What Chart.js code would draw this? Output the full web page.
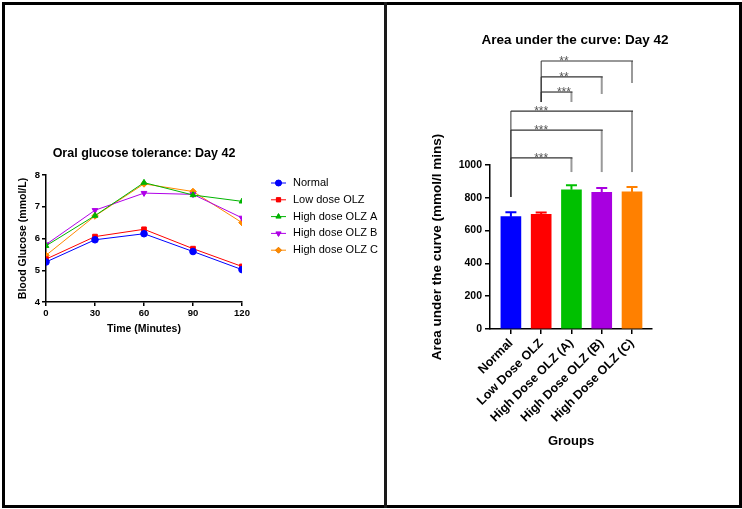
<!DOCTYPE html>
<html>
<head>
<meta charset="utf-8">
<script src="https://cdn.jsdelivr.net/npm/chart.js@4.4.1/dist/chart.umd.min.js"></script>
<style>
  html, body { margin: 0; padding: 0; background: #fff; overflow: hidden; }
  #page { position: relative; width: 742px; height: 509px; }
  canvas { position: absolute; top: 0; }
  #ogtt { left: 0; }
  #auc { left: 386px; }
  .frame { position: absolute; left: 2px; top: 2px; width: 740px; height: 506px; box-sizing: border-box; border: 3px solid #000; }
  .divider { position: absolute; left: 384px; top: 2px; width: 3px; height: 506px; background: #1a1a1a; }
</style>
</head>
<body>
<div id="page">
  <canvas id="ogtt" width="386" height="509"></canvas>
  <canvas id="auc" width="356" height="509"></canvas>
  <div class="frame"></div>
  <div class="divider"></div>
</div>
<script>
// ---------- OGTT data (Day 42) ----------
const times = [0, 30, 60, 90, 120];
const normal = [5.26, 5.96, 6.15, 5.59, 5.02];
const lowDose = [5.35, 6.06, 6.29, 5.68, 5.12];
const highA = [5.77, 6.72, 7.76, 7.37, 7.17];
const highB = [5.81, 6.89, 7.43, 7.39, 6.65];
const highC = [5.47, 6.71, 7.72, 7.48, 6.50];

const seriesNames = ["Normal", "Low dose OLZ", "High dose OLZ A", "High dose OLZ B", "High dose OLZ C"];
const seriesColors = ["#0000ff", "#ff0000", "#00b400", "#b000e8", "#ff8a00"];
const seriesMarkers = ["circle", "rect", "triangle", "triangle", "rectRot"];
const seriesRotation = [0, 0, 0, 180, 0];

// ---------- AUC data ----------
const groups = ["Normal", "Low Dose OLZ", "High Dose OLZ (A)", "High Dose OLZ (B)", "High Dose OLZ (C)"];
const aucMean = [685, 699, 849, 834, 836];
const aucSem = [27, 12, 27, 26, 30];
const barColors = ["#0000ff", "#ff0000", "#00c000", "#a800e0", "#ff8000"];

// significance brackets
const bracketFrom = [1, 1, 1, 0, 0, 0];
const bracketTo = [4, 3, 2, 4, 3, 2];
const bracketTop = [1634, 1537, 1445, 1329, 1213, 1043];
const bracketRightEnd = [1500, 1433, 1384, 957, 957, 957];
const bracketLeftEnd = [1384, 1384, 1384, 805, 805, 805];
const bracketLabel = ["**", "**", "***", "***", "***", "***"];

Chart.defaults.font.family = '"Liberation Sans", Arial, sans-serif';
Chart.defaults.color = "#000";

const bold = (size) => ({ family: '"Liberation Sans", Arial, sans-serif', size: size, weight: "bold" });

// ============================
// Left: line chart
// ============================
const legendPlugin = {
  id: "sideLegend",
  afterDraw(chart) {
    const ctx = chart.ctx;
    ctx.save();
    chart.data.datasets.forEach((ds, i) => {
      const y = 183 + i * 16.8;
      ctx.strokeStyle = ds.borderColor;
      ctx.lineWidth = 1;
      ctx.beginPath();
      ctx.moveTo(271, y);
      ctx.lineTo(286, y);
      ctx.stroke();
      Chart.helpers.drawPoint(ctx, {
        pointStyle: ds.pointStyle,
        rotation: ds.pointRotation || 0,
        radius: 3,
        borderWidth: 1
      }, 278.5, y);
      ctx.fillStyle = ds.borderColor;
      ctx.fill();
      ctx.fillStyle = "#000";
      ctx.font = '11px "Liberation Sans", Arial, sans-serif';
      ctx.textBaseline = "middle";
      ctx.fillText(ds.label, 293, y);
    });
    ctx.restore();
  }
};

const seriesData = [normal, lowDose, highA, highB, highC];

new Chart(document.getElementById("ogtt"), {
  type: "line",
  data: {
    datasets: seriesData.map((vals, i) => ({
      label: seriesNames[i],
      data: times.map((t, k) => ({ x: t, y: vals[k] })),
      borderColor: seriesColors[i],
      backgroundColor: seriesColors[i],
      borderWidth: 1,
      pointStyle: seriesMarkers[i],
      pointRotation: seriesRotation[i],
      pointRadius: 3.3,
      pointBorderWidth: 1,
      tension: 0,
      fill: false
    }))
  },
  options: {
    responsive: false,
    animation: false,
    layout: { padding: { left: 13, right: 144, top: 146, bottom: 170 } },
    plugins: {
      legend: { display: false },
      tooltip: { enabled: false },
      title: {
        display: true,
        fullSize: false,
        text: "Oral glucose tolerance: Day 42",
        color: "#000",
        font: bold(12.5),
        padding: { top: 0, bottom: 14 }
      }
    },
    scales: {
      x: {
        type: "linear",
        min: 0,
        max: 120,
        ticks: { stepSize: 30, color: "#000", font: bold(9.5), padding: 2, maxRotation: 0 },
        grid: { display: true, drawOnChartArea: false, drawTicks: true, tickLength: 4, color: "#000", lineWidth: 1.5 },
        border: { color: "#000", width: 1.5 },
        title: { display: true, text: "Time (Minutes)", color: "#000", font: bold(10.5), padding: 4 },
        afterFit: (s) => { s.height = 37; }
      },
      y: {
        min: 4,
        max: 8,
        ticks: { stepSize: 1, color: "#000", font: bold(9.5), padding: 2 },
        grid: { display: true, drawOnChartArea: false, drawTicks: true, tickLength: 4, color: "#000", lineWidth: 1.5 },
        border: { color: "#000", width: 1.5 },
        title: { display: true, text: "Blood Glucose (mmol/L)", color: "#000", font: bold(10.5), padding: 4 },
        afterFit: (s) => { s.width = 33; }
      }
    }
  },
  plugins: [legendPlugin]
});

// ============================
// Right: bar chart with error bars and brackets
// ============================
const errorBarPlugin = {
  id: "errorBars",
  afterDatasetsDraw(chart) {
    const ctx = chart.ctx;
    const xs = chart.scales.x, ys = chart.scales.y;
    ctx.save();
    aucMean.forEach((m, i) => {
      const x = xs.getPixelForValue(i);
      const y0 = ys.getPixelForValue(m);
      const y1 = ys.getPixelForValue(m + aucSem[i]);
      ctx.strokeStyle = barColors[i];
      ctx.lineWidth = 2;
      ctx.beginPath();
      ctx.moveTo(x, y0);
      ctx.lineTo(x, y1);
      ctx.moveTo(x - 5.5, y1);
      ctx.lineTo(x + 5.5, y1);
      ctx.stroke();
    });
    ctx.restore();
  }
};

const bracketPlugin = {
  id: "brackets",
  afterDraw(chart) {
    const ctx = chart.ctx;
    const xs = chart.scales.x, ys = chart.scales.y;
    ctx.save();
    bracketTop.forEach((top, i) => {
      const xl = xs.getPixelForValue(bracketFrom[i]);
      const xr = xs.getPixelForValue(bracketTo[i]);
      const yt = ys.getPixelForValue(top);
      // right drop
      ctx.strokeStyle = "#999";
      ctx.lineWidth = 2;
      ctx.beginPath();
      ctx.moveTo(xr, yt);
      ctx.lineTo(xr, ys.getPixelForValue(bracketRightEnd[i]));
      ctx.stroke();
      // left drop
      ctx.strokeStyle = "#333";
      ctx.lineWidth = 1;
      ctx.beginPath();
      ctx.moveTo(xl, yt);
      ctx.lineTo(xl, ys.getPixelForValue(bracketLeftEnd[i]));
      ctx.stroke();
      // horizontal
      ctx.strokeStyle = "#333";
      ctx.lineWidth = 1.2;
      ctx.beginPath();
      ctx.moveTo(xl, yt);
      ctx.lineTo(xr + 1, yt);
      ctx.stroke();
      // label: placed a quarter along the widest bracket of its group
      let widest = 0;
      bracketFrom.forEach((f, k) => { if (f === bracketFrom[i]) widest = Math.max(widest, bracketTo[k]); });
      const lx = xl + 0.25 * (xs.getPixelForValue(widest) - xl);
      ctx.fillStyle = "#555";
      ctx.font = '12px "Liberation Sans", Arial, sans-serif';
      ctx.textAlign = "center";
      ctx.textBaseline = "alphabetic";
      ctx.fillText(bracketLabel[i], lx, yt + 4);
    });
    ctx.restore();
  }
};

// title drawn by hand so it is not squeezed into the narrow plot width
const aucTitlePlugin = {
  id: "aucTitle",
  afterDraw(chart) {
    const ctx = chart.ctx;
    const a = chart.chartArea;
    ctx.save();
    ctx.fillStyle = "#000";
    ctx.font = 'bold 13.5px "Liberation Sans", Arial, sans-serif';
    ctx.textAlign = "center";
    ctx.textBaseline = "middle";
    ctx.fillText("Area under the curve: Day 42", (a.left + a.right) / 2 + 4, 40);
    ctx.restore();
  }
};

new Chart(document.getElementById("auc"), {
  type: "bar",
  data: {
    datasets: [{
      data: aucMean.map((v, i) => ({ x: i, y: v })),
      backgroundColor: barColors,
      borderWidth: 0,
      barThickness: 20
    }]
  },
  options: {
    responsive: false,
    animation: false,
    layout: { padding: { left: 39, right: 90, top: 165, bottom: 56 } },
    plugins: {
      legend: { display: false },
      tooltip: { enabled: false },
      title: { display: false }
    },
    scales: {
      x: {
        type: "linear",
        offset: false,
        min: -0.69,
        max: 4.66,
        afterBuildTicks: (s) => { s.ticks = groups.map((g, i) => ({ value: i })); },
        ticks: {
          color: "#000",
          font: bold(12.5),
          padding: 2,
          minRotation: 45,
          maxRotation: 45,
          autoSkip: false,
          callback: (v) => groups[v]
        },
        grid: { display: true, offset: false, drawOnChartArea: false, drawTicks: true, tickLength: 5, color: "#000", lineWidth: 1.5 },
        border: { color: "#000", width: 1.5 },
        title: { display: true, text: "Groups", color: "#000", font: bold(13), padding: 4 },
        afterFit: (s) => { s.height = 124; }
      },
      y: {
        min: 0,
        max: 1000,
        ticks: { stepSize: 200, color: "#000", font: bold(10.5), padding: 3, callback: (v) => String(v) },
        grid: { display: true, drawOnChartArea: false, drawTicks: true, tickLength: 5, color: "#000", lineWidth: 1.5 },
        border: { color: "#000", width: 1.5 },
        title: { display: true, text: "Area under the curve (mmol/l mins)", color: "#000", font: bold(13.5), padding: 4 },
        afterFit: (s) => { s.width = 65; }
      }
    }
  },
  plugins: [errorBarPlugin, bracketPlugin, aucTitlePlugin]
});
</script>
</body>
</html>
